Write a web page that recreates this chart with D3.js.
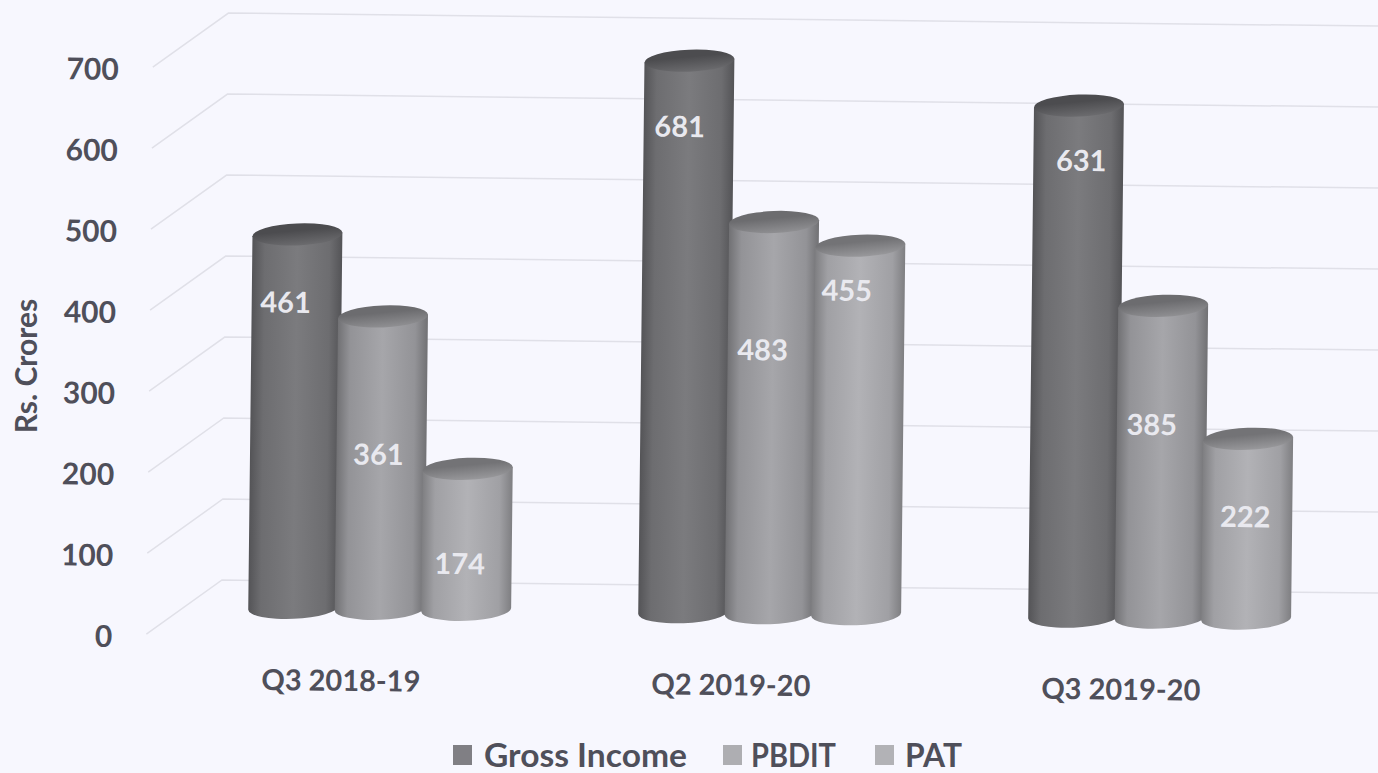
<!DOCTYPE html>
<html><head><meta charset="utf-8">
<style>html,body{margin:0;padding:0;background:#f7f7fe;overflow:hidden}svg{display:block}text{font-family:Lato,"Open Sans",sans-serif;font-weight:700}</style>
<script src="https://cdn.jsdelivr.net/npm/d3@7"></script></head><body>
<script>
const categories = ["Q3 2018-19", "Q2 2019-20", "Q3 2019-20"];
const seriesNames = ["Gross Income", "PBDIT", "PAT"];
const grossIncome = [461, 681, 631];
const pbdit = [361, 483, 385];
const pat = [174, 455, 222];
const yTicks = [0, 100, 200, 300, 400, 500, 600, 700];
const seriesValues = [grossIncome, pbdit, pat];

// Layout and style, kept apart from the data
const W = 1378, H = 773, tiltDeg = 0.65, pivot = [222, 580];
const bodyEdge = ["#545457", "#717174", "#7f7f82"];
const bodyMid = ["#7b7b7e", "#a6a6aa", "#b2b2b6"];
const capDark = ["#4c4c4f", "#6c6c6f", "#737376"];
const capLight = ["#6b6b6e", "#8f8f92", "#98989b"];
const legendFill = ["#807f84", "#aeaeb2", "#b2b2b6"];
const legendBox = [453, 723, 875];
const legendText = [484, 751, 905];
const legendWidth = [203, 85, 57];
// hand-placed data label offsets [dx from bar centre, dy from bar top], per series then category
const labelOffsets = [
  [[-11, 65], [-9, 63], [3, 52]],
  [[-3, 135], [-10, 125], [-10, 116]],
  [[-7, 92], [-13, 42], [-2, 75]]
];
const inkColor = "#4f4f5a";

const svg = d3.select("body").append("svg").attr("width", W).attr("height", H);
const defs = svg.append("defs");
seriesNames.forEach((s, i) => {
  const g = defs.append("linearGradient").attr("id", "body" + i);
  [[0, bodyEdge[i]], [.14, d3.interpolateRgb(bodyEdge[i], bodyMid[i])(.65)], [.5, bodyMid[i]], [.86, d3.interpolateRgb(bodyEdge[i], bodyMid[i])(.65)], [1, bodyEdge[i]]]
    .forEach(([o, c]) => g.append("stop").attr("offset", o).attr("stop-color", c));
  const c = defs.append("linearGradient").attr("id", "cap" + i).attr("x1", .3).attr("y1", 0).attr("x2", .5).attr("y2", 1);
  c.append("stop").attr("offset", .35).attr("stop-color", capDark[i]);
  c.append("stop").attr("offset", 1).attr("stop-color", capLight[i]);
});

const plot = svg.append("g").attr("transform", `rotate(${tiltDeg} ${pivot[0]} ${pivot[1]})`);

const y = d3.scaleLinear().domain([0, 700]).range([580, 13]);
const x = d3.scaleBand().domain(categories).range([185, 1355]);
const xs = d3.scaleBand().domain(seriesNames).range([-129.75, 129.75]);

// Grid: back wall and side wall
const gridLine = d3.line();
plot.append("g").selectAll("path").data(yTicks).join("path")
  .attr("d", v => gridLine([[147, y(v) + 55], [pivot[0], y(v)], [1420, y(v)]]))
  .attr("fill", "none").attr("stroke", "#e0e0e8").attr("stroke-width", 1.5);

// Value axis
const axis = d3.axisLeft(y).tickValues(yTicks).tickSize(0).tickPadding(0).tickFormat(d3.format("d"));
const axG = plot.append("g").attr("transform", "translate(113,58)").call(axis);
axG.select(".domain").remove();
axG.selectAll("text").attr("fill", inkColor).style("font-size", "30px").style("font-family", "Lato").style("font-weight", 700);

// Cylinders
const rx = 45, ry = 11, capTilt = -3, bodyBase = 607;
const ex = rx * Math.cos(capTilt * Math.PI / 180), ey = rx * Math.sin(capTilt * Math.PI / 180);
const cx = (cat, s) => x(cat) + x.bandwidth() / 2 + xs(s) + xs.bandwidth() / 2;
const bars = plot.append("g");
seriesNames.forEach((s, i) => {
  const g = bars.append("g");
  const d = categories.map((c, j) => ({c, v: seriesValues[i][j]}));
  g.selectAll("path").data(d).join("path")
    .attr("d", o => {
      const X = cx(o.c, s), t = y(o.v) + bodyBase - y(0);
      return `M${X - ex},${t - ey}L${X - ex},${bodyBase - ey}A${rx},${ry} ${capTilt} 0 0 ${X + ex},${bodyBase + ey}L${X + ex},${t + ey}Z`;
    }).attr("fill", `url(#body${i})`);
  g.selectAll("ellipse").data(d).join("ellipse")
    .attr("rx", rx).attr("ry", ry)
    .attr("transform", o => `translate(${cx(o.c, s)},${y(o.v) + bodyBase - y(0)}) rotate(${capTilt})`)
    .attr("fill", `url(#cap${i})`);
});

// Data labels
seriesNames.forEach((s, i) => {
  plot.append("g").selectAll("text").data(categories).join("text")
    .attr("x", (c, j) => cx(c, s) + labelOffsets[i][j][0])
    .attr("y", (c, j) => y(seriesValues[i][j]) + bodyBase - y(0) + labelOffsets[i][j][1])
    .attr("dy", "0.46em").attr("text-anchor", "middle")
    .attr("fill", "#e9e9ef").style("font-size", "29px")
    .text((c, j) => seriesValues[i][j]);
});

// Category labels
plot.append("g").selectAll("text").data(categories).join("text")
  .attr("x", c => x(c) + x.bandwidth() / 2 - 38)
  .attr("y", 679).attr("dy", "0.36em").attr("text-anchor", "middle")
  .attr("fill", inkColor).style("font-size", "29px").text(c => c);

// Axis title
svg.append("text").attr("transform", "translate(26,366) rotate(-90)")
  .attr("dy", "0.36em").attr("text-anchor", "middle")
  .attr("fill", inkColor).style("font-size", "30px").text("Rs. Crores");

// Legend
const legend = svg.append("g").selectAll("g").data(seriesNames).join("g");
legend.append("rect").attr("x", (s, i) => legendBox[i]).attr("y", 745).attr("width", 19).attr("height", 20)
  .attr("fill", (s, i) => legendFill[i]);
legend.append("text").attr("x", (s, i) => legendText[i]).attr("y", 767)
  .attr("textLength", (s, i) => legendWidth[i]).attr("lengthAdjust", "spacingAndGlyphs")
  .attr("fill", inkColor).style("font-size", "32px").text(s => s);
</script></body></html>
